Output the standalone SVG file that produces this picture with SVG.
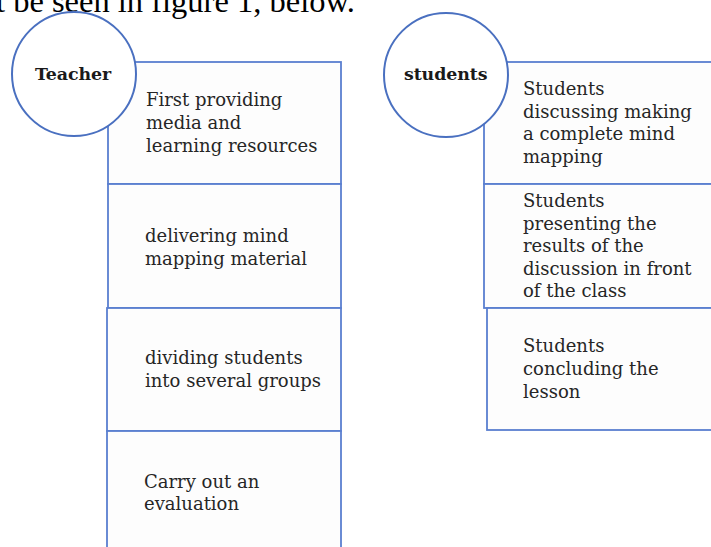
<svg xmlns="http://www.w3.org/2000/svg" width="711" height="547" viewBox="0 0 711 547">
<style>
.box{fill:#fdfdfd;stroke:#5a7fd0;stroke-width:1.8}
.circ{fill:#ffffff;stroke:#4a70c0;stroke-width:2}
.t{font-family:"DejaVu Serif","Liberation Serif",serif;font-size:18px;fill:#262626;letter-spacing:0px}
.h{font-family:"DejaVu Serif","Liberation Serif",serif;font-size:17.4px;font-weight:bold;fill:#1a1a1a;letter-spacing:-0.1px}
.cap{font-family:"Liberation Serif","Times New Roman",serif;font-size:32.5px;fill:#000}
</style>
<rect width="711" height="547" fill="#ffffff"/>
<text class="cap" x="-4" y="12">t be seen in figure 1, below.</text>
<g id="connectors"></g>
<g id="t1"><rect class="box" x="108" y="62" width="233" height="122"/>
<text class="t" x="146" y="106">First providing</text><text class="t" x="146" y="129">media and</text><text class="t" x="146" y="152">learning resources</text></g>
<g id="t2"><rect class="box" x="108" y="184" width="233" height="124"/>
<text class="t" x="145" y="242">delivering mind</text><text class="t" x="145" y="265">mapping material</text></g>
<g id="t3"><rect class="box" x="107" y="308" width="234" height="123"/>
<text class="t" x="145" y="364">dividing students</text><text class="t" x="145" y="387">into several groups</text></g>
<g id="t4"><rect class="box" x="107" y="431" width="234" height="130"/>
<text class="t" x="144" y="488">Carry out an</text><text class="t" x="144" y="510">evaluation</text></g>
<g id="teacher"><circle class="circ" cx="74" cy="74" r="62"/><text class="h" x="35" y="80">Teacher</text></g>
<g id="s1"><rect class="box" x="484" y="62" width="240" height="122"/>
<text class="t" x="523" y="95">Students</text><text class="t" x="523" y="118">discussing making</text><text class="t" x="523" y="140">a complete mind</text><text class="t" x="523" y="163">mapping</text></g>
<g id="s2"><rect class="box" x="484" y="184" width="240" height="124"/>
<text class="t" x="523" y="207">Students</text><text class="t" x="523" y="230">presenting the</text><text class="t" x="523" y="252">results of the</text><text class="t" x="523" y="275">discussion in front</text><text class="t" x="523" y="297">of the class</text></g>
<g id="s3"><rect class="box" x="487" y="308" width="240" height="122"/>
<text class="t" x="523" y="352">Students</text><text class="t" x="523" y="375">concluding the</text><text class="t" x="523" y="398">lesson</text></g>
<g id="students"><circle class="circ" cx="446" cy="75" r="62"/><text class="h" x="404" y="80">students</text></g>
</svg>
